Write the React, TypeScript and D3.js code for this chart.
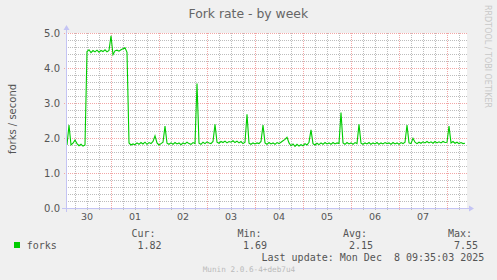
import React from "react";
import * as d3 from "d3";

// ---- data ----
const title = "Fork rate - by week";
const yLabel = "forks / second";
const seriesName = "forks";
const startUtc = Date.UTC(2025, 10, 30, 1, 30);
const hours = 200;
const yTicksMajor = [1, 2, 3, 4, 5];
const statLabels = ["Cur:", "Min:", "Avg:", "Max:"];
const statValues = ["1.82", "1.69", "2.15", "7.55"];
const lastUpdate = "Last update: Mon Dec  8 09:35:03 2025";
const footer = "Munin 2.0.6-4+deb7u4";
const sideText = "RRDTOOL / TOBI OETIKER";

// hourly fork-rate values (forks / second)
const forks = [
  1.80, 2.37, 1.80, 1.85, 1.94, 1.84, 1.78, 1.82, 1.77, 1.80,
  4.47, 4.52, 4.44, 4.50, 4.46, 4.51, 4.45, 4.50, 4.47, 4.52,
  4.46, 4.50, 4.92, 4.38, 4.49, 4.51, 4.48, 4.52, 4.55, 4.58,
  4.45, 1.86, 1.80, 1.83, 1.81, 1.86, 1.82, 1.87, 1.83, 1.88,
  1.82, 1.87, 1.84, 1.90, 2.06, 1.86, 1.80, 1.84, 1.88, 2.34,
  1.85, 1.82, 1.86, 1.82, 1.87, 1.83, 1.86, 1.81, 1.86, 1.83,
  1.88, 1.84, 1.82, 1.87, 1.84, 3.56, 1.85, 1.82, 1.88, 1.84,
  1.89, 1.86, 1.84, 1.90, 2.39, 1.88, 1.85, 1.90, 1.87, 1.91,
  1.86, 1.90, 1.88, 1.92, 1.87, 1.91, 1.86, 1.90, 1.84, 1.88,
  2.68, 1.85, 1.82, 1.86, 1.83, 1.86, 1.84, 1.90, 2.37, 1.86,
  1.82, 1.87, 1.83, 1.86, 1.82, 1.87, 1.84, 1.88, 1.92, 1.96,
  2.02, 1.86, 1.78, 1.83, 1.76, 1.82, 1.77, 1.81, 1.78, 1.84,
  1.80, 1.88, 2.23, 1.84, 1.80, 1.85, 1.81, 1.86, 1.82, 1.87,
  1.83, 1.86, 1.82, 1.87, 1.83, 1.86, 1.84, 2.73, 1.86, 1.82,
  1.87, 1.83, 1.86, 1.82, 1.87, 1.84, 2.39, 1.85, 1.82, 1.86,
  1.83, 1.87, 1.82, 1.86, 1.83, 1.87, 1.82, 1.86, 1.83, 1.87,
  1.84, 1.86, 1.82, 1.87, 1.83, 1.86, 1.82, 1.87, 1.84, 1.88,
  2.37, 1.86, 1.84, 1.99, 1.88, 1.84, 1.88, 1.85, 1.89, 1.86,
  1.90, 1.86, 1.89, 1.85, 1.90, 1.86, 1.89, 1.86, 1.90, 1.87,
  1.88, 2.34, 1.86, 1.90, 1.85, 1.88, 1.84, 1.87, 1.84, 1.85,
];

const W = 497;
const H = 280;
const X0 = 66;
const X1 = 466;
const Y0 = 208;
const Y1 = 33;
const HOUR = 3600 * 1000;

export default function App() {
  const start = new Date(startUtc);
  const end = new Date(startUtc + hours * HOUR);
  const x = d3.scaleUtc().domain([start, end]).range([X0, X1]);
  const y = d3.scaleLinear().domain([0, 5]).range([Y0, Y1]);

  const pts = forks.map((v, i) => ({ t: new Date(startUtc + (i + 0.5) * HOUR), v }));
  const line = d3
    .line<{ t: Date; v: number }>()
    .x((d) => x(d.t))
    .y((d) => y(d.v));

  const days = d3.utcDay.range(start, end);
  const minorX = d3.utcHour
    .every(6)!
    .range(start, end)
    .filter((d) => d.getUTCHours() !== 0);
  const labelDays = d3.utcDay
    .range(d3.utcDay.floor(start), end)
    .map((d) => new Date(+d + 12 * HOUR))
    .filter((d) => d > start && d < end);
  const fmt = d3.utcFormat("%d");

  const minorY = d3.range(1, 26).map((i) => i * 0.2).filter((v) => Math.abs(v - Math.round(v)) > 1e-6);

  const crisp = (v: number) => Math.round(v) + 0.5;

  const mono = "'DejaVu Sans Mono', monospace";
  const sans = "'DejaVu Sans', sans-serif";
  const statX = [131.5, 237.5, 343, 448];
  const valX = [137.5, 243, 349, 454];
  const minorCol = "#bdbdbd";
  const majorCol = "#f2a6a6";

  return (
    <svg
      width={W}
      height={H}
      style={{ position: "absolute", left: 0, top: 0, display: "block" }}
    >
      <rect x={0} y={0} width={W} height={H} fill="#f0f0f0" />
      <rect x={X0} y={Y1} width={X1 - X0 + 1} height={Y0 - Y1} fill="#ffffff" />

      {/* minor grid */}
      {minorX.map((d, i) => (
        <line key={"mx" + i} x1={crisp(x(d))} x2={crisp(x(d))} y1={Y1} y2={Y0 + 2}
          stroke={minorCol} strokeDasharray="1,1" />
      ))}
      {minorY.map((v, i) => (
        <line key={"my" + i} x1={X0} x2={X1 + 1} y1={crisp(y(v))} y2={crisp(y(v))}
          stroke={minorCol} strokeDasharray="1,1" />
      ))}
      {/* major grid */}
      {days.map((d, i) => (
        <line key={"Mx" + i} x1={crisp(x(d))} x2={crisp(x(d))} y1={Y1} y2={Y0 + 3}
          stroke={majorCol} strokeDasharray="1,1" />
      ))}
      {yTicksMajor.map((v, i) => (
        <line key={"My" + i} x1={X0 - 2} x2={X1 + 1} y1={crisp(y(v))} y2={crisp(y(v))}
          stroke={majorCol} strokeDasharray="1,1" />
      ))}

      {/* series */}
      <path d={line(pts) || ""} fill="none" stroke="#00cc00" strokeWidth={1.1} />

      {/* axes */}
      <line x1={X0 - 4} x2={X1 + 6} y1={Y0 + 0.5} y2={Y0 + 0.5} stroke="#c4c4f4" />
      <line x1={X0 + 0.5} x2={X0 + 0.5} y1={Y0 + 4} y2={Y1 - 5} stroke="#c4c4f4" />
      <path d={`M${X1 + 3},${Y0 - 2.5} L${X1 + 8},${Y0 + 0.5} L${X1 + 3},${Y0 + 3.5} Z`} fill="#c4c4f4" />
      <path d={`M${X0 - 2.5},${Y1 - 3} L${X0 + 0.5},${Y1 - 8} L${X0 + 3.5},${Y1 - 3} Z`} fill="#c4c4f4" />

      {/* y tick labels */}
      {[0, ...yTicksMajor].map((v, i) => (
        <text key={"yl" + i} x={60} y={y(v) + 3.5} textAnchor="end" fontFamily={sans}
          fontSize={10} fill="#555">{v.toFixed(1)}</text>
      ))}
      {/* x tick labels */}
      {labelDays.map((d, i) => (
        <text key={"xl" + i} x={x(d)} y={220} textAnchor="middle" fontFamily={sans}
          fontSize={9.5} fill="#555">{fmt(d)}</text>
      ))}

      {/* title */}
      <text x={248.3} y={18.3} textAnchor="middle" fontFamily={sans} fontSize={12.4} fill="#666">{title}</text>
      {/* y label */}
      <text transform={`translate(15.5,119) rotate(-90)`} textAnchor="middle" fontFamily={sans}
        fontSize={10} fill="#555">{yLabel}</text>
      {/* side text */}
      <text transform={`translate(485,5) rotate(90)`} fontFamily={sans} fontSize={8} fill="#c8c8c8">{sideText}</text>

      {/* legend */}
      <rect x={14} y={242} width={6} height={6} fill="#00cc00" />
      <text x={26.7} y={249} fontFamily={mono} fontSize={10} fill="#555">{seriesName}</text>
      {statLabels.map((s, i) => (
        <text key={"sl" + i} x={statX[i]} y={237} fontFamily={mono} fontSize={10} fill="#555">{s}</text>
      ))}
      {statValues.map((s, i) => (
        <text key={"sv" + i} x={valX[i]} y={249} fontFamily={mono} fontSize={10} fill="#555">{s}</text>
      ))}
      <text x={261.5} y={260.5} fontFamily={mono} fontSize={10} fill="#555" style={{ whiteSpace: "pre" }}>{lastUpdate}</text>
      <text x={202.7} y={271.5} fontFamily={mono} fontSize={7.7} fill="#bbb">{footer}</text>
    </svg>
  );
}
